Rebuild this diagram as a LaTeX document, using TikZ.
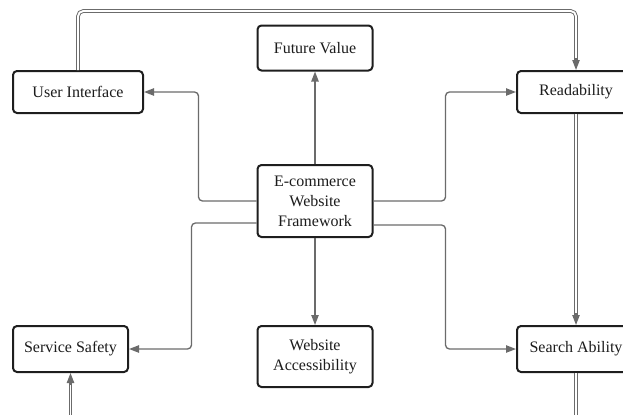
\documentclass[tikz,border=0pt]{standalone}
\usepackage{fontspec}
\setmainfont{Liberation Serif}
\usetikzlibrary{arrows.meta}
\definecolor{linegray}{HTML}{6B6B6B}
\definecolor{boxline}{HTML}{1E1E1E}
\definecolor{textgray}{HTML}{1C1C1C}
\tikzset{
	box/.style={draw=boxline, line width=1.5pt, rounded corners=3pt, fill=white,
		text=textgray, align=center, inner sep=2pt,
		font=\fontsize{12}{15}\selectfont},
	arr/.style={draw=linegray, line width=1pt, rounded corners=3pt,
		-{Triangle[length=7.5pt, width=5.5pt]}, fill=none},
	tip/.style={draw=linegray, line width=1pt, -{Triangle[length=7.5pt, width=5.5pt]}},
	dbl/.style={draw=linegray, line width=0.7pt, double=white, double distance=1.4pt,
		rounded corners=4pt},
}

\begin{document}
\begin{tikzpicture}[x=0.75pt, y=-0.75pt]
		%%%%% START %%%%%
		\useasboundingbox (0, 0) rectangle (623, 414);
		
		\node[box, minimum width=115*0.75pt, minimum height=72*0.75pt] (frame) at (315, 201) {E-commerce\\Website\\Framework};
		\node[box, minimum width=115*0.75pt, minimum height=45*0.75pt] (future) at (315, 48) {Future Value};
		\node[box, minimum width=115*0.75pt, minimum height=61*0.75pt] (access) at (315, 356.5) {Website\\Accessibility};
		
		\node[box, minimum width=130*0.75pt, minimum height=42*0.75pt] (ui) at (78, 92) {User Interface};
		\node[box, minimum width=115*0.75pt, minimum height=46*0.75pt] (safety) at (70.5, 349) {Service Safety};
		
		\node[box, minimum width=118*0.75pt, minimum height=42*0.75pt] (read) at (576, 92) {Readability};
		\node[box, minimum width=118*0.75pt, minimum height=46*0.75pt] (search) at (576, 349) {Search Ability};
		
		% straight arrows
		\draw[arr] (frame) -- (future);
		\draw[arr] (frame) -- (access);
		
		% elbow arrows
		\draw[arr] (frame.west) -- ++(-58, 0) |- (ui.east);
		\draw[arr] ([yshift=-16.5pt]frame.west) -- ++(-65, 0) |- (safety.east);
		\draw[arr] (frame.east) -- ++(72, 0) |- (read.west);
		\draw[arr] ([yshift=-18pt]frame.east) -- ++(72, 0) |- (search.west);
		
		% double lines
		\coordinate (below search) at ([yshift=-60pt]search.south);
		\coordinate (below safety) at ([yshift=-60pt]safety.south);
		\draw[dbl, shorten >=7pt] (ui.north) -- ++(0, -59) -| (read.north);
		\draw[tip] ([yshift=9pt]read.north) -- (read.north);
		\draw[dbl, shorten >=7pt] (read.south) -- (search.north);
		\draw[tip] ([yshift=9pt]search.north) -- (search.north);
		\draw[dbl] (search.south) -- (below search);
		\draw[dbl, shorten >=7pt] (below safety) -- (safety.south);
		\draw[tip] ([yshift=-9pt]safety.south) -- (safety.south);
		
		%%%%% END %%%%%
	\end{tikzpicture}
\end{document}
